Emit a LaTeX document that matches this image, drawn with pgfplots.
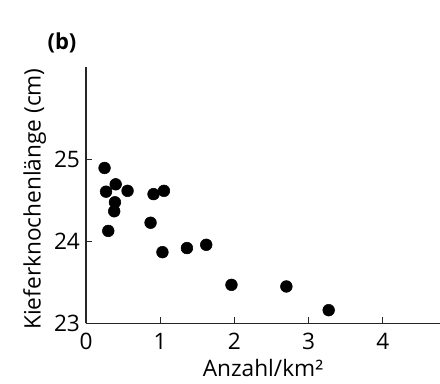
\documentclass[border=0pt]{standalone}
\usepackage{pgfplots}
\pgfplotsset{compat=1.18}
\usepackage{fontspec}
\setmainfont{Open Sans}
\pgfplotstableread{
x y
0.25 24.90
0.27 24.61
0.40 24.70
0.39 24.48
0.38 24.37
0.30 24.13
0.56 24.62
0.91 24.58
1.05 24.62
0.87 24.23
1.03 23.87
1.36 23.92
1.62 23.96
1.96 23.47
2.70 23.45
3.27 23.16
}\datatable
\begin{document}
\begin{tikzpicture}
\useasboundingbox (0,0) rectangle (330pt,287.25pt);
\begin{axis}[
  at={(64.5pt,44.8pt)}, anchor=south west,
  scale only axis,
  width=265.5pt, height=192.5pt,
  xmin=0, xmax=4.77, ymin=23, ymax=26.14,
  axis x line=bottom, axis y line=left,
  axis line style={-, line width=1pt, black!85},
  xtick={0,1,2,3,4}, ytick={23,24,25},
  xtick align=inside, ytick align=inside,
  major tick length=4.5pt,
  tick style={line width=0.8pt, black!85},
  /pgf/number format/assume math mode=true,
  tick label style={font=\fontsize{17}{19}\selectfont},
  xticklabel style={yshift=-4pt},
  yticklabel style={xshift=-1pt},
  label style={font=\fontsize{17}{19}\selectfont},
  xlabel={Anzahl/km²},
  ylabel={Kieferknochenlänge (cm)},
  xlabel style={at={(axis description cs:0.5,-0.174)}, anchor=center},
  ylabel style={at={(axis description cs:-0.145,0.484)}, anchor=center, rotate=0},
  clip=false,
]
\addplot[only marks, mark=*, mark size=4.4pt, black] table[x=x,y=y] {\datatable};
\end{axis}
\node[font=\fontsize{16.5}{18}\selectfont\bfseries] at (46.5pt,255pt) {(b)};
\end{tikzpicture}
\end{document}
